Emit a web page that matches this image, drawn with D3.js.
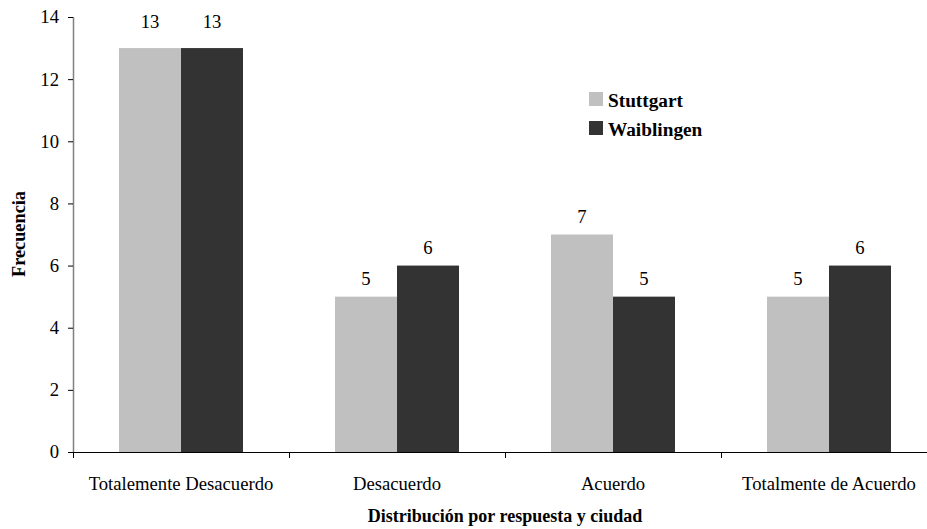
<!DOCTYPE html>
<html>
<head>
<meta charset="utf-8">
<script src="https://cdn.jsdelivr.net/npm/d3@7"></script>
<style>
  html, body { margin: 0; padding: 0; background: #fff; }
  svg text { font-family: "Liberation Serif", "Times New Roman", serif; }
</style>
</head>
<body>
<svg id="chart" width="927" height="529"></svg>
<script>
// Response categories and counts per city
const categories = ["Totalemente Desacuerdo", "Desacuerdo", "Acuerdo", "Totalmente de Acuerdo"];
const series = ["Stuttgart", "Waiblingen"];
const stuttgart = [13, 5, 7, 5];
const waiblingen = [13, 6, 5, 6];
const yTicks = [0, 2, 4, 6, 8, 10, 12, 14];
const colors = ["#c0c0c0", "#333333"];

(function () {
const FONT = "Liberation Serif, Times New Roman, serif";
const values = [stuttgart, waiblingen];
const svg = d3.select("#chart").attr("font-family", FONT);

const plotLeft = 73, plotRight = 937, plotTop = 17, plotBottom = 452;

const x0 = d3.scaleBand().domain(categories).range([plotLeft, plotRight]).padding(0);
const groupPad = (x0.bandwidth() - 124) / 2;
const x1 = d3.scaleBand().domain(series).range([groupPad, x0.bandwidth() - groupPad]).padding(0);
const y = d3.scaleLinear().domain([0, 14]).range([plotBottom, plotTop]);
const color = d3.scaleOrdinal().domain(series).range(colors);

// Bars
const groups = svg.append("g").selectAll("g")
  .data(categories)
  .join("g")
  .attr("transform", d => `translate(${x0(d)},0)`);

groups.selectAll("rect")
  .data((d, i) => series.map((s, j) => ({ s, v: values[j][i] })))
  .join("rect")
  .attr("x", d => x1(d.s))
  .attr("y", d => y(d.v))
  .attr("width", x1.bandwidth())
  .attr("height", d => y(0) - y(d.v))
  .attr("fill", d => color(d.s));

// Value labels (tall bars get a little more headroom)
groups.selectAll("text.val")
  .data((d, i) => series.map((s, j) => ({ s, v: values[j][i] })))
  .join("text")
  .attr("class", "val")
  .attr("x", d => x1(d.s) + x1.bandwidth() / 2)
  .attr("y", d => y(d.v) - (d.v > 10 ? 20 : 12))
  .attr("text-anchor", "middle")
  .attr("font-family", FONT)
  .attr("font-size", 18.67)
  .attr("fill", "#000")
  .text(d => d.v);

// Y axis
const yAxis = svg.append("g")
  .attr("transform", `translate(${plotLeft},0)`)
  .call(d3.axisLeft(y).tickValues(yTicks).tickSize(5).tickPadding(9).tickFormat(d3.format("d")))
  .attr("font-family", FONT);
yAxis.select(".domain").attr("stroke", "#808080").attr("stroke-width", 1.5)
  .attr("d", `M0.5,${plotTop}V${plotBottom}`);
yAxis.selectAll(".tick line").attr("stroke", "#000");
yAxis.selectAll(".tick text")
  .attr("font-family", FONT)
  .attr("font-size", 18.67).attr("fill", "#000");

// X axis
const xAxis = svg.append("g").attr("transform", `translate(0,${plotBottom})`);
xAxis.append("line")
  .attr("x1", plotLeft).attr("x2", plotRight).attr("y1", 0.5).attr("y2", 0.5)
  .attr("stroke", "#000").attr("stroke-width", 1.2);
const boundaries = categories.map(c => x0(c)).concat([plotRight]);
xAxis.selectAll("line.tick")
  .data(boundaries)
  .join("line")
  .attr("class", "tick")
  .attr("x1", d => Math.round(d) + 0.5).attr("x2", d => Math.round(d) + 0.5)
  .attr("y1", 0).attr("y2", 6)
  .attr("stroke", "#000");
xAxis.selectAll("text.cat")
  .data(categories)
  .join("text")
  .attr("class", "cat")
  .attr("x", d => x0(d) + x0.bandwidth() / 2)
  .attr("y", 38)
  .attr("text-anchor", "middle")
  .attr("font-family", FONT)
  .attr("font-size", 18.67)
  .attr("fill", "#000")
  .text(d => d);

// Axis titles
svg.append("text")
  .attr("x", (plotLeft + plotRight) / 2).attr("y", 522)
  .attr("text-anchor", "middle")
  .attr("font-family", FONT)
  .attr("font-size", 18).attr("font-weight", "bold")
  .text("Distribución por respuesta y ciudad");

svg.append("text")
  .attr("transform", "translate(25,234) rotate(-90)")
  .attr("text-anchor", "middle")
  .attr("font-family", FONT)
  .attr("font-size", 18.3).attr("font-weight", "bold")
  .text("Frecuencia");

// Legend
const legend = svg.append("g").attr("transform", "translate(589,92)");
const items = legend.selectAll("g")
  .data(series)
  .join("g")
  .attr("transform", (d, i) => `translate(0,${i * 29})`);
items.append("rect")
  .attr("width", 14).attr("height", 14)
  .attr("fill", d => color(d));
items.append("text")
  .attr("x", 19).attr("y", 15)
  .attr("font-family", FONT)
  .attr("font-size", 19.3).attr("font-weight", "bold")
  .text(d => d);
})();
</script>
</body>
</html>
